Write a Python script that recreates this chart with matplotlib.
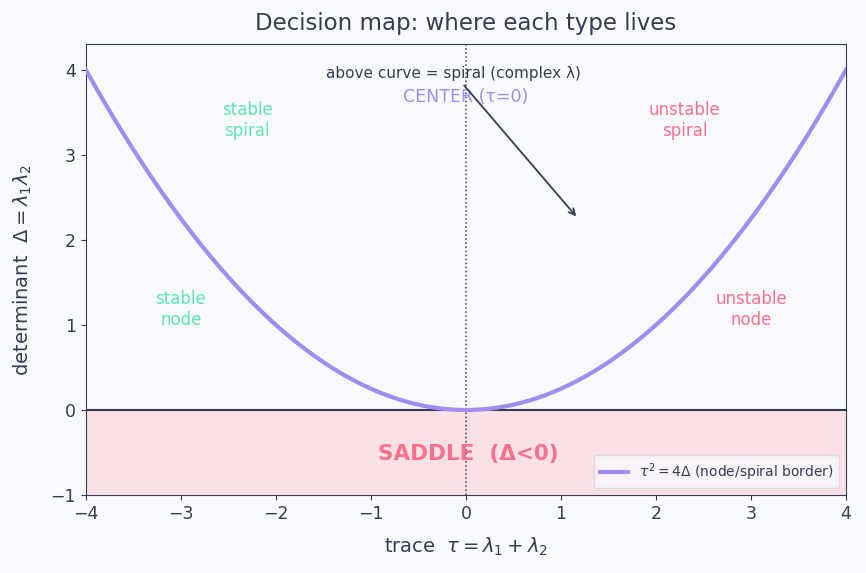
import numpy as np
import matplotlib.pyplot as plt

# data
tau = np.linspace(-4, 4, 401)
border = tau ** 2 / 4
region_labels = ["stable\nspiral", "unstable\nspiral", "stable\nnode", "unstable\nnode"]
region_tau = [-2.3, 2.3, -3.0, 3.0]
region_delta = [3.4, 3.4, 1.18, 1.18]
region_colors = ["#5ee6b0", "#f7708c", "#5ee6b0", "#f7708c"]

ink = "#363d52"
violet = "#a18cf0"
bg = "#f8f9fd"

fig, ax = plt.subplots(figsize=(8.66, 5.73), dpi=100)
fig.patch.set_facecolor(bg)
ax.set_facecolor(bg)

ax.axhspan(-1, 0, color="#fbe0e5", zorder=0)
ax.axhline(0, color=ink, lw=1.5, zorder=2)
ax.axvline(0, color=ink, lw=1.1, ls=":", zorder=2)
ax.plot(tau, border, color=violet, lw=3, zorder=3,
        label=r"$\tau^2 = 4\Delta$ (node/spiral border)")

for lab, x, y, c in zip(region_labels, region_tau, region_delta, region_colors):
    ax.text(x, y, lab, color=c, fontsize=12, ha="center", va="center")

ax.text(0.03, -0.52, "SADDLE  (Δ<0)", color="#f7708c", fontsize=15.5,
        fontweight="bold", ha="center", va="center")
ax.text(0, 3.68, "CENTER (τ=0)", color=violet, fontsize=12.5, ha="center", va="center")
ax.annotate("above curve = spiral (complex λ)", xy=(1.18, 2.25), xytext=(-0.13, 3.96),
            ha="center", va="center", fontsize=11, color=ink,
            arrowprops=dict(arrowstyle="->", color=ink, lw=1.3))

ax.set_xlim(-4, 4)
ax.set_ylim(-1, 4.3)
ax.set_xlabel(r"trace  $\tau = \lambda_1 + \lambda_2$", fontsize=14, color=ink, labelpad=9)
ax.set_ylabel(r"determinant  $\Delta = \lambda_1\lambda_2$", fontsize=14, color=ink, labelpad=12)
ax.set_title("Decision map: where each type lives", fontsize=16.5, color=ink, pad=10)
ax.tick_params(colors=ink, labelsize=12.5)
for s in ax.spines.values():
    s.set_color(ink)

leg = ax.legend(loc="lower right", fontsize=10, facecolor=bg, edgecolor="#d8d8e0")
for t in leg.get_texts():
    t.set_color(ink)

fig.subplots_adjust(left=0.099, right=0.977, top=0.923, bottom=0.136)
fig.savefig("out.png", dpi=100, facecolor=bg)
